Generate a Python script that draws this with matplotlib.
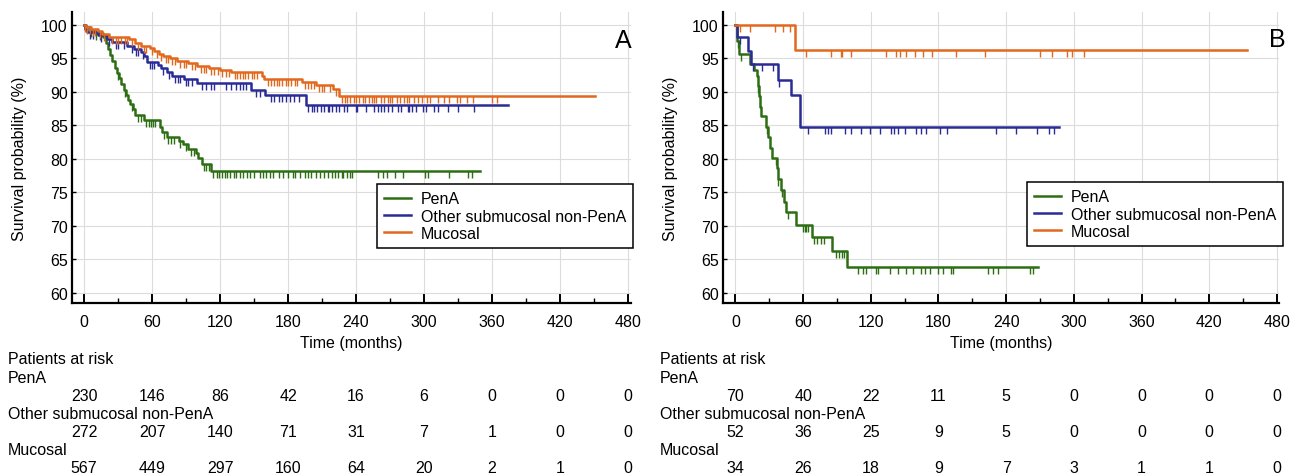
import matplotlib.pyplot as plt
import numpy as np
from matplotlib.path import Path
from matplotlib.lines import Line2D

plt.rcParams['font.family'] = ['Liberation Sans', 'DejaVu Sans']

groups = ["PenA", "Other submucosal non-PenA", "Mucosal"]
colors = ["#2d6e14", "#2b2b96", "#e2681e"]
risk_times = [0, 60, 120, 180, 240, 300, 360, 420, 480]

# ---- Panel A: Kaplan-Meier steps (time, survival %), censor times, end of follow-up
a_pena_t = [0, 2, 5, 10, 17, 19, 21, 23, 25, 27, 29, 31, 33, 35, 37, 39, 41, 43, 45, 53,
            67, 69, 73, 84, 87, 92, 99, 101, 104, 112]
a_pena_s = [100, 99.6, 99.2, 98.8, 98.2, 97.3, 96.4, 95.5, 94.6, 93.6, 92.8, 92.0, 91.2, 90.2,
            89.5, 88.8, 88.2, 87.5, 86.6, 85.8, 84.8, 84.0, 83.2, 82.6, 82.2, 81.5, 80.8, 80.2,
            79.3, 78.2]
a_pena_cens = [6, 11, 14, 30, 36, 42, 48, 50, 55, 57, 59, 61, 63, 71, 74, 77, 79, 85, 90, 94, 97,
               106, 108, 110, 114, 117, 119, 121.5, 124, 126, 129, 132, 134, 137.7, 140, 144,
               146.5, 150, 155, 158, 161, 164, 167, 172, 176, 180, 184, 186, 190.6, 195, 198,
               200, 205, 208, 212, 215.6, 218.6, 221.5, 224.4, 227.4, 228.9, 231.9, 234.8,
               236.3, 259.8, 264.2, 267.2, 274.5, 281.8, 301, 303.9, 321.6, 339.2, 342.2]
a_pena_end = 349.5

a_other_t = [0, 1, 3, 12, 20, 25, 38, 44, 50, 53, 56, 65, 68, 73, 78, 88, 100, 147, 160, 196]
a_other_s = [100, 99.4, 98.9, 98.5, 97.9, 97.5, 96.9, 96.4, 95.9, 95.3, 94.5, 94.0, 93.5, 92.9,
             92.4, 91.9, 91.3, 90.3, 89.5, 88.1]
a_other_cens = [5, 8, 15, 22, 28, 30, 35, 42, 46, 48, 52, 58, 60, 62, 70, 75, 80, 83, 85, 90, 92,
                95, 104, 108, 112, 115, 125, 130, 134, 138, 140, 143, 152, 155, 165, 168, 172,
                175, 178, 182, 185, 190, 198, 201, 203, 206, 209, 212, 215, 216, 219, 222, 225,
                229, 232, 240, 241, 249, 256, 259, 262, 265, 268, 272, 277, 280, 286, 287, 289,
                293, 299, 302, 309, 312, 321, 330, 344]
a_other_end = 374

a_muc_t = [0, 2, 6, 12, 16, 22, 40, 45, 50, 58, 62, 66, 70, 76, 82, 92, 100, 110, 120, 130,
           157, 159, 192, 205, 220, 225]
a_muc_s = [100, 99.7, 99.4, 99.0, 98.6, 98.2, 97.8, 97.3, 96.9, 96.5, 96.1, 95.7, 95.3, 95.0,
           94.6, 94.3, 93.9, 93.6, 93.3, 92.9, 92.4, 91.9, 91.4, 91.0, 90.4, 89.4]
a_muc_cens = [1, 3, 5, 8, 10, 14, 18, 25, 28, 30, 33, 36, 38, 42, 48, 53, 55, 60, 64, 68, 72, 74,
              78, 80, 85, 88, 90, 95, 98, 103, 106, 108, 112, 115, 118, 122, 125, 128, 133, 135,
              138, 140, 142, 145, 148, 150, 153, 162, 165, 168, 170, 172, 175, 178, 180, 183,
              186, 188, 195, 198, 200, 203, 207, 210, 212, 217, 222, 228, 230, 232, 235, 238,
              240, 243, 246, 248, 251, 254, 256, 258, 262, 265, 268, 270, 272, 276, 279, 282,
              285, 287, 291, 295, 298, 303, 305, 312, 318, 321.6, 328.9, 331.9, 337.8, 343.6,
              359.8, 364.2]
a_muc_end = 451

# ---- Panel B
b_pena_t = [0, 1, 3, 12.5, 16.5, 19, 19.6, 21, 22, 23, 27, 29, 31, 32, 37, 38, 40, 43, 45, 54,
            68, 86, 99]
b_pena_s = [100, 97.6, 95.6, 94.2, 93.3, 92.4, 90.9, 89.4, 87.8, 86.4, 84.7, 83.3, 81.6, 80.1,
            78.6, 77.0, 75.3, 73.6, 72.0, 70.2, 68.4, 66.3, 63.8]
b_pena_cens = [2, 5, 20, 28, 36, 38, 41, 47, 60, 61.4, 62.9, 64.4, 69.8, 72.7, 75.7, 78.7, 88.8,
               91.7, 94.4, 96.1, 108.7, 113.2, 116.1, 125, 126.5, 136.8, 144.2, 151.6, 157.5,
               164.9, 167.9, 172.3, 179.7, 184.1, 191.5, 193, 224, 228.4, 232.8, 260.9, 263.8]
b_pena_end = 268

b_other_t = [0, 1.5, 11.2, 13.7, 37.8, 49.6, 57]
b_other_s = [100, 98.1, 96.1, 94.1, 91.8, 89.5, 84.8]
b_other_cens = [4, 16, 24, 33, 39, 64.4, 79.2, 82, 85.1, 96.9, 102.8, 111.7, 119, 127.9, 138.3,
                141, 144.1, 150.1, 160.5, 164.9, 169.3, 181.1, 187.1, 230.8, 249.1, 267.4, 278,
                282.2]
b_other_end = 287

b_muc_t = [0, 52.6]
b_muc_s = [100, 96.3]
b_muc_cens = [3.8, 12.7, 34.8, 42.2, 48.1, 62.9, 85.1, 94, 94.9, 102.8, 133.9, 142.7, 145.7,
              151.6, 159, 166.3, 173.8, 195.9, 221, 269.8, 281, 294, 297.9, 308.8]
b_muc_end = 453

# ---- numbers at risk
a_risk_pena = [230, 146, 86, 42, 16, 6, 0, 0, 0]
a_risk_other = [272, 207, 140, 71, 31, 7, 1, 0, 0]
a_risk_muc = [567, 449, 297, 160, 64, 20, 2, 1, 0]
b_risk_pena = [70, 40, 22, 11, 5, 0, 0, 0, 0]
b_risk_other = [52, 36, 25, 9, 5, 0, 0, 0, 0]
b_risk_muc = [34, 26, 18, 9, 7, 3, 1, 1, 0]

FS = 11.5
tick_down = Path([(0, 0), (0, -1)], [Path.MOVETO, Path.LINETO])


def km(ax, t, s, cens, end, color):
    tt = list(t) + [end]
    ss = list(s) + [s[-1]]
    ax.step(tt, ss, where='post', color=color, lw=1.8, zorder=3)
    idx = np.searchsorted(t, cens, side='right') - 1
    ax.plot(cens, np.array(s)[idx], ls='none', marker=tick_down, ms=10,
            mec=color, mew=1.0, zorder=3)


fig = plt.figure(figsize=(12.93, 4.77), dpi=100)
W, H = 1293, 477
ax_a = fig.add_axes([72 / W, 1 - 304 / H, 559 / W, 291 / H])
ax_b = fig.add_axes([723 / W, 1 - 304 / H, 556 / W, 291 / H])

km(ax_a, a_pena_t, a_pena_s, a_pena_cens, a_pena_end, colors[0])
km(ax_a, a_other_t, a_other_s, a_other_cens, a_other_end, colors[1])
km(ax_a, a_muc_t, a_muc_s, a_muc_cens, a_muc_end, colors[2])
km(ax_b, b_pena_t, b_pena_s, b_pena_cens, b_pena_end, colors[0])
km(ax_b, b_other_t, b_other_s, b_other_cens, b_other_end, colors[1])
km(ax_b, b_muc_t, b_muc_s, b_muc_cens, b_muc_end, colors[2])

for ax, xl in [(ax_a, (-10.6, 482.6)), (ax_b, (-11.0, 481.8))]:
    ax.set_xlim(*xl)
    ax.set_ylim(58.5, 101.9)
    ax.set_xticks(risk_times)
    ax.set_xticks(np.arange(30, 480, 60), minor=True)
    ax.set_yticks(np.arange(60, 101, 5))
    ax.grid(True, color="#dcdcdc", lw=0.8, zorder=0)
    for side in ['top', 'right']:
        ax.spines[side].set_visible(False)
    for side in ['left', 'bottom']:
        ax.spines[side].set_linewidth(1.6)
    ax.tick_params(axis='x', which='major', direction='in', length=7, width=1.4, pad=8, labelsize=FS)
    ax.tick_params(axis='x', which='minor', direction='in', length=3.5, width=1.0)
    ax.tick_params(axis='y', direction='in', length=3, width=1.0, pad=3, labelsize=FS)
    ax.set_xlabel("Time (months)", fontsize=FS, labelpad=4)
    ax.set_ylabel("Survival probability (%)", fontsize=FS, labelpad=10)

handles = [Line2D([], [], color=c, lw=1.8) for c in colors]
for x0, y0 in [(377, 185), (1027, 183)]:
    leg = fig.legend(handles, groups, loc='upper left', bbox_to_anchor=(x0 / W, 1 - y0 / H),
                     fontsize=FS, frameon=True, fancybox=False, edgecolor='black', framealpha=1,
                     borderaxespad=0, handlelength=1.7, handletextpad=0.6, labelspacing=0.15,
                     borderpad=0.45)
    leg.get_frame().set_linewidth(1.1)

fig.text(623 / W, 1 - 41 / H, "A", fontsize=18, ha='center', va='center')
fig.text(1277 / W, 1 - 40 / H, "B", fontsize=18, ha='center', va='center')

# ---- patients at risk table
row_y = [360, 379, 397, 415, 433, 451, 469]
for ax, lx, risks in [(ax_a, 8, [a_risk_pena, a_risk_other, a_risk_muc]),
                      (ax_b, 660, [b_risk_pena, b_risk_other, b_risk_muc])]:
    fig.text(lx / W, 1 - row_y[0] / H, "Patients at risk", fontsize=FS, va='center')
    for i, (name, vals) in enumerate(zip(groups, risks)):
        fig.text(lx / W, 1 - row_y[1 + 2 * i] / H, name, fontsize=FS, va='center')
        yf = 1 - row_y[2 + 2 * i] / H
        for tx, v in zip(risk_times, vals):
            xd = ax.transData.transform((tx, 0))[0]
            xf = fig.transFigure.inverted().transform((xd, 0))[0]
            fig.text(xf, yf, str(v), fontsize=FS, ha='center', va='center')

fig.savefig("out.png", dpi=100)
